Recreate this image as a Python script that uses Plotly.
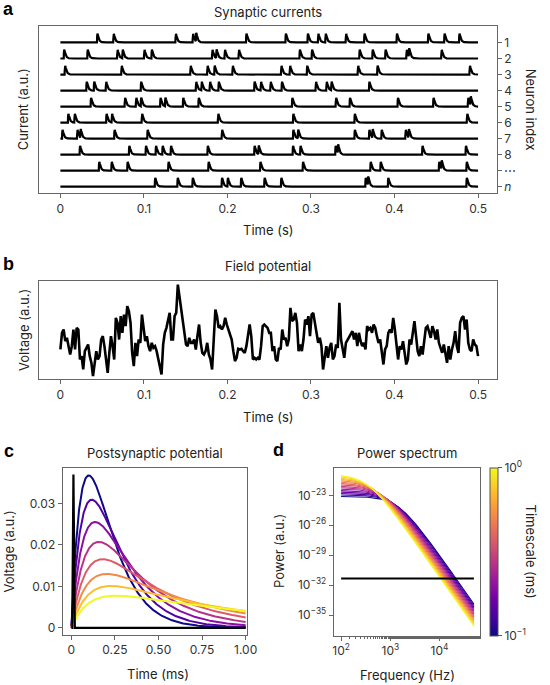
import numpy as np
import plotly.graph_objects as go
from plotly.colors import sample_colorscale

W, H = 550, 685

# ---------------- Panel a: spike times (s) per neuron row ----------------
neuron_labels = ["1", "2", "3", "4", "5", "6", "7", "8", "⋯", "<i>n</i>"]
spikes_1 = [0.0438, 0.0633, 0.1377, 0.1583, 0.1621, 0.2222, 0.2694, 0.2958, 0.3083, 0.3171,
            0.3415, 0.3636, 0.4024, 0.4400, 0.4594, 0.4772]
spikes_2 = [0.0040, 0.0322, 0.0679, 0.0741, 0.1001, 0.1090, 0.1815, 0.1865, 0.1965, 0.2133,
            0.2862, 0.3008, 0.3578, 0.3734, 0.3888, 0.4141, 0.4171, 0.4559]
spikes_3 = [0.0051, 0.0729, 0.1555, 0.1757, 0.1842, 0.2059, 0.2641, 0.2745, 0.2950, 0.3559,
            0.3792, 0.4897]
spikes_4 = [0.0310, 0.0400, 0.0543, 0.0962, 0.1621, 0.1687, 0.1787, 0.1892, 0.2320, 0.2397,
            0.2513, 0.2648, 0.3055, 0.3183, 0.3241, 0.3694]
spikes_5 = [0.0362, 0.0769, 0.0903, 0.0962, 0.1194, 0.1252, 0.1466, 0.1652, 0.2772, 0.3295,
            0.3462, 0.4036, 0.4462, 0.4877, 0.4908]
spikes_6 = [0.0090, 0.0167, 0.0548, 0.0613, 0.0973, 0.1885, 0.2784, 0.3520, 0.4865]
spikes_7 = [0.0020, 0.0199, 0.0238, 0.0644, 0.1040, 0.1931, 0.2784, 0.2842, 0.3520, 0.3694,
            0.3734, 0.3842, 0.4129, 0.4167]
spikes_8 = [0.023, 0.082, 0.102, 0.114, 0.122, 0.132, 0.176, 0.232, 0.237, 0.278, 0.287,
            0.329, 0.332, 0.433, 0.485]
spikes_9 = [0.046, 0.061, 0.080, 0.129, 0.177, 0.239, 0.290, 0.371, 0.383, 0.453, 0.456, 0.486]
spikes_n = [0.113, 0.140, 0.158, 0.193, 0.200, 0.216, 0.244, 0.264, 0.365, 0.368, 0.392, 0.486]
spike_rows = [spikes_1, spikes_2, spikes_3, spikes_4, spikes_5,
              spikes_6, spikes_7, spikes_8, spikes_9, spikes_n]
current_rise_s = 0.0003
current_decay_s = 0.0015
current_height = 0.55

# ---------------- Panel b: field potential (a.u.), sampled evenly over 0-0.5 s ----------------
field_potential = [
    9, 14, 15, 11.5, 12.5, 10, 7.5, 10, 15, 9, 15.5, 15, 6, 7, 3, 8.5, 9.5, 10.5, 7, 5,
    1, 5, 8.5, 6, 7, 12, 13, 10, 6, 2, 8, 13, 10, 6, 18.5, 17, 12, 19, 14, 19.5,
    16, 22, 20.5, 17, 8, 4, 11, 7, 12, 11, 19.5, 15, 11.5, 13, 10, 8.5, 11, 9.5, 10, 8.5,
    6, 3, 1.5, 10.5, 14, 15.5, 18, 20, 12, 12, 19, 20, 28.5, 25, 22, 17, 14, 10.5, 10, 12.5,
    11, 11, 12, 9, 13, 16.5, 11, 8, 7.5, 8.5, 11, 7.5, 6, 3, 12, 21, 19, 15.5, 16, 15,
    16, 18.5, 16.5, 15, 13, 12, 8.5, 5.5, 6.5, 9.2, 9, 9.2, 8.5, 8, 10, 13, 16.5, 13, 6, 6.5,
    6, 6.5, 6, 10, 16, 16.5, 16, 15.5, 14,
    14, 8.5, 10, 6, 5.5, 9.5, 9, 15, 12, 12.5, 10, 12, 21.5, 17.5, 18, 20, 17, 8.5, 10.5, 8.5,
    12, 18, 16.5, 19, 13, 19.5, 20, 17, 13.5, 11, 12.5, 10, 3, 7.5, 10, 6.5, 9.5, 11, 6, 7,
    10.5, 9.5, 23, 12, 9, 6.5, 11, 12, 12.5, 14, 14.5, 12, 14, 10, 14, 11.5, 10, 11, 9, 16,
    15, 15.5, 14, 16.5, 15.5, 13, 11, 12, 8.5, 4.5, 9, 10, 14, 15, 14, 18.5, 15, 10.5, 6, 10,
    9, 11.5, 8, 4.5, 6, 12, 10.5, 14, 17.5, 13, 8.5, 7, 10, 7.5, 11, 15.5, 16, 14, 12.5, 16,
    14.5, 12, 15, 11, 9.5, 8, 10.5, 7.5, 5, 10, 6, 9, 11, 14.5, 10, 8, 17, 18.5, 19, 15,
    18, 11, 9, 8.5, 12, 10.5, 10, 7,
]

# ---------------- Panel c: postsynaptic potentials ----------------
psp_rise_ms = 0.1
psp_timescales_ms = [0.1, 0.139, 0.193, 0.268, 0.373, 0.518, 0.720, 1.0]
psp_scale = 0.01
delta_t = [0.0, 0.005, 0.012, 0.02, 1.0]
delta_v = [0.0, 0.0, 0.037, 0.0, 0.0]

# ---------------- Panel d: power spectra ----------------
spec_timescales_ms = [0.1, 0.1166, 0.1359, 0.1585, 0.1848, 0.2154, 0.2512, 0.2929,
                      0.3415, 0.3981, 0.4642, 0.5412, 0.6310, 0.7356, 0.8577, 1.0]
spec_level_fast, spec_level_slow = -23.1, -20.9      # log10 power at low f
spec_corner_fast, spec_corner_slow = 1440.0, 340.0   # Hz
spec_order = 3.5
white_level = -31.33
freq_min, freq_max = 100.0, 5.0e4

# ============ figure ============
fig = go.Figure()

# panel a traces
t_a = np.arange(0, 0.5 + 1e-9, 0.0002)
tk = np.arange(0, 0.02, 1e-5)
kern = np.exp(-tk / current_decay_s) - np.exp(-tk / current_rise_s)
kpeak = kern.max()
n_rows = len(spike_rows)
for i, row in enumerate(spike_rows):
    y = np.zeros_like(t_a)
    for s in row:
        d = t_a - s
        m = d >= 0
        y[m] += (np.exp(-d[m] / current_decay_s) - np.exp(-d[m] / current_rise_s)) / kpeak
    fig.add_trace(go.Scatter(x=t_a, y=(n_rows - 1 - i) + current_height * y, mode="lines",
                             line=dict(color="black", width=2.2), xaxis="x", yaxis="y",
                             showlegend=False, hoverinfo="skip"))

# panel b
t_b = np.linspace(0, 0.5, len(field_potential))
fig.add_trace(go.Scatter(x=t_b, y=field_potential, mode="lines",
                         line=dict(color="black", width=2.6), xaxis="x2", yaxis="y2",
                         showlegend=False, hoverinfo="skip"))

# panel c
t_c = np.linspace(0, 1.0, 600)
log_tau_c = np.log10(np.array(psp_timescales_ms) / psp_timescales_ms[0])
cols_c = sample_colorscale("Plasma", list(log_tau_c / log_tau_c.max()))
for tau_d, col in zip(psp_timescales_ms, cols_c):
    if abs(tau_d - psp_rise_ms) < 1e-9:
        v = t_c / tau_d ** 2 * np.exp(-t_c / tau_d)
    else:
        v = (np.exp(-t_c / tau_d) - np.exp(-t_c / psp_rise_ms)) / (tau_d - psp_rise_ms)
    fig.add_trace(go.Scatter(x=t_c, y=psp_scale * v, mode="lines",
                             line=dict(color=col, width=2), xaxis="x3", yaxis="y3",
                             showlegend=False, hoverinfo="skip"))
fig.add_trace(go.Scatter(x=delta_t, y=delta_v, mode="lines",
                         line=dict(color="black", width=2.2), xaxis="x3", yaxis="y3",
                         showlegend=False, hoverinfo="skip"))

# panel d
f = np.logspace(np.log10(freq_min), np.log10(freq_max), 300)
s_d = np.log10(np.array(spec_timescales_ms) / spec_timescales_ms[0])
s_d = s_d / s_d.max()
cols_d = sample_colorscale("Plasma", list(s_d))
for s, col in zip(s_d, cols_d):
    L = spec_level_fast + (spec_level_slow - spec_level_fast) * s
    fc = 10 ** (np.log10(spec_corner_fast) + s * (np.log10(spec_corner_slow) - np.log10(spec_corner_fast)))
    logp = L - spec_order * np.log10(1 + (f / fc) ** 2)
    fig.add_trace(go.Scatter(x=f, y=10 ** logp, mode="lines",
                             line=dict(color=col, width=1.1), xaxis="x4", yaxis="y4",
                             showlegend=False, hoverinfo="skip"))
fig.add_trace(go.Scatter(x=[freq_min, freq_max], y=[10 ** white_level] * 2, mode="lines",
                         line=dict(color="black", width=2), xaxis="x4", yaxis="y4",
                         showlegend=False, hoverinfo="skip"))
# colorbar carrier
fig.add_trace(go.Scatter(x=[1000, 1000], y=[1e-30, 1e-30], mode="markers",
                         marker=dict(size=0.1, opacity=0, color=[-1, 0], colorscale="Plasma",
                                     cmin=-1, cmax=0, showscale=True,
                                     colorbar=dict(x=500 / W, xanchor="left", xpad=0,
                                                   y=1 - 552.4 / H, yanchor="middle", ypad=0,
                                                   len=168 / H, lenmode="fraction",
                                                   thickness=8, outlinewidth=1, outlinecolor="#555",
                                                   tickvals=[-1, 0],
                                                   ticktext=["10<sup>−1</sup>", "10<sup>0</sup>"],
                                                   ticks="outside", ticklen=4, tickcolor="#555",
                                                   tickfont=dict(size=12, color="#333"))),
                         xaxis="x4", yaxis="y4", showlegend=False, hoverinfo="skip"))


def px(x):
    return x / W


def py(y):
    return 1 - y / H


ax = dict(showline=True, linecolor="#666", linewidth=1, mirror=True, ticks="outside",
          tickcolor="#666", ticklen=4, tickwidth=1, showgrid=False, zeroline=False,
          tickfont=dict(size=12, color="#333"))

time_ticks = [0, 0.1, 0.2, 0.3, 0.4, 0.5]
time_text = ["0", "0.1", "0.2", "0.3", "0.4", "0.5"]

fig.update_layout(
    width=W, height=H, margin=dict(l=0, r=0, t=0, b=0),
    paper_bgcolor="white", plot_bgcolor="white",
    font=dict(family="Inter", size=12, color="#333"),
    xaxis=dict(ax, domain=[px(38.5), px(507)], range=[-0.026, 0.5226], anchor="y",
               tickvals=time_ticks, ticktext=time_text),
    yaxis=dict(ax, domain=[py(193.5), py(26)], range=[-0.405, 10.03], anchor="x", side="right",
               tickvals=list(range(n_rows - 1, -1, -1)), ticktext=neuron_labels),
    xaxis2=dict(ax, domain=[px(38.5), px(507)], range=[-0.026, 0.5226], anchor="y2",
                tickvals=time_ticks, ticktext=time_text),
    yaxis2=dict(ax, domain=[py(380), py(281)], range=[0, 29.7], anchor="x2",
                ticks="", showticklabels=False),
    xaxis3=dict(ax, domain=[px(63), px(251)], range=[-0.05, 1.005], anchor="y3",
                tickvals=[0, 0.25, 0.5, 0.75, 1.0], ticktext=["0", "0.25", "0.50", "0.75", "1.00"]),
    yaxis3=dict(ax, domain=[py(636), py(469)], range=[-0.00176, 0.0385], anchor="x3",
                tickvals=[0, 0.01, 0.02, 0.03], ticktext=["0", "0.01", "0.02", "0.03"]),
    xaxis4=dict(ax, domain=[px(340), px(490)], type="log", range=[1.847, 4.829], anchor="y4",
                tickvals=[1e2, 1e3, 1e4],
                ticktext=["10<sup>2</sup>", "10<sup>3</sup>", "10<sup>4</sup>"],
                minor=dict(ticks="outside", ticklen=2, tickcolor="#666", showgrid=False)),
    yaxis4=dict(ax, domain=[py(636.7), py(469)], type="log", range=[-37.07, -20.29], anchor="x4",
                tickvals=[1e-23, 1e-26, 1e-29, 1e-32, 1e-35],
                ticktext=["10<sup>−23</sup>", "10<sup>−26</sup>", "10<sup>−29</sup>",
                          "10<sup>−32</sup>", "10<sup>−35</sup>"]),
)

ann = []


def text(x, y, s, size=13, angle=0, bold=False, family="Inter", color="#222"):
    ann.append(dict(x=px(x), y=py(y), xref="paper", yref="paper", text=s, showarrow=False,
                    textangle=angle, xanchor="center", yanchor="middle",
                    font=dict(size=size, color=color, family=family)))


# panel letters
for lx, ly, s in [(8, 9, "a"), (8, 264, "b"), (8, 452, "c"), (284, 451, "d")]:
    text(lx, ly, "<b>" + s + "</b>", size=18, family="Liberation Sans", color="black")
# titles
text(273, 12, "Synaptic currents")
text(273, 266, "Field potential")
text(157, 453.5, "Postsynaptic potential")
text(415, 453.5, "Power spectrum")
# axis titles
text(273, 230, "Time (s)")
text(273, 418, "Time (s)")
text(160, 675, "Time (ms)")
text(416, 676, "Frequency (Hz)")
text(22, 110, "Current (a.u.)", angle=-90)
text(23, 330, "Voltage (a.u.)", angle=-90)
text(8.5, 552, "Voltage (a.u.)", angle=-90)
text(284, 552, "Power (a.u.)", angle=-90)
text(542, 110, "Neuron index", angle=90)
text(541.5, 552, "Timescale (ms)", angle=90)

fig.update_layout(annotations=ann)
fig.write_html("out.html")
